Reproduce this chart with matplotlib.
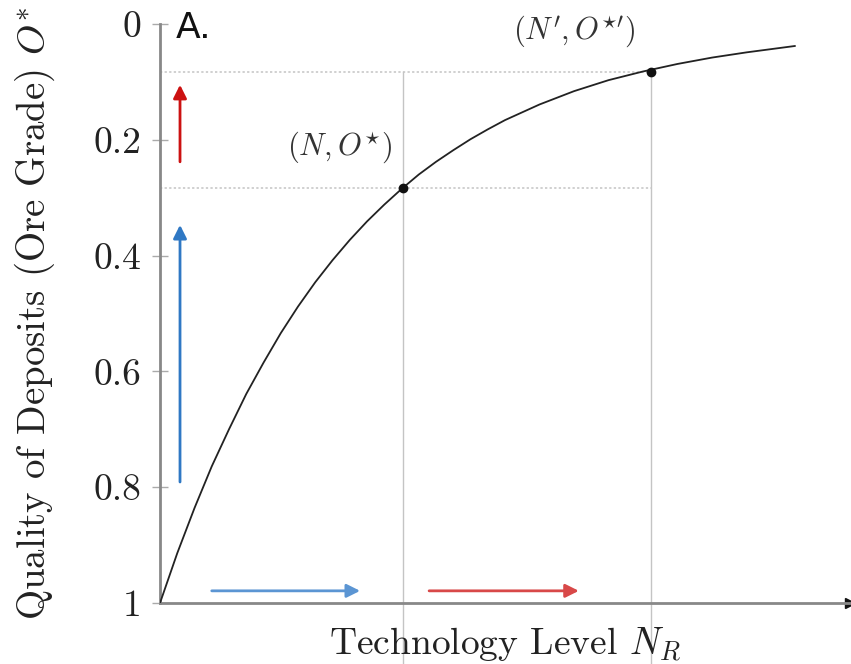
import matplotlib
matplotlib.use("Agg")
import matplotlib.pyplot as plt

plt.rcParams["font.family"] = ["cmr10", "DejaVu Serif"]
plt.rcParams["mathtext.fontset"] = "cm"
plt.rcParams["axes.formatter.use_mathtext"] = True

# curve: technology level (0..1) vs ore grade
tech_level = [0.0, 0.025, 0.05, 0.075, 0.10, 0.125, 0.15, 0.175, 0.20, 0.225,
              0.25, 0.275, 0.30, 0.325, 0.35, 0.375, 0.40, 0.425, 0.45, 0.475,
              0.50, 0.55, 0.60, 0.65, 0.70, 0.75, 0.80, 0.85, 0.92]
ore_grade = [1.0, 0.914, 0.836, 0.764, 0.700, 0.639, 0.585, 0.534, 0.488, 0.446,
             0.408, 0.373, 0.341, 0.312, 0.285, 0.260, 0.238, 0.218, 0.199, 0.182,
             0.166, 0.139, 0.116, 0.097, 0.082, 0.069, 0.058, 0.049, 0.038]

# the two highlighted points (N, O*) and (N', O*')
point_x = [0.352, 0.712]
point_y = [0.283, 0.083]
point_labels = [r"$(N, O^{\star})$", r"$(N', O^{\star\prime})$"]

y_ticks = [0, 0.2, 0.4, 0.6, 0.8, 1]
y_tick_labels = ["0", "0.2", "0.4", "0.6", "0.8", "1"]

# arrows: (x_start, y_start, x_end, y_end, colour)
arrows = [
    (0.029, 0.238, 0.029, 0.105, "#cc1111"),
    (0.029, 0.791, 0.029, 0.347, "#2f78c4"),
    (0.075, 0.979, 0.290, 0.979, "#5b95d3"),
    (0.390, 0.979, 0.607, 0.979, "#d84848"),
]

fig = plt.figure(figsize=(8.51, 6.64), dpi=100)
ax = fig.add_axes([160 / 851, 1 - 603 / 664, 690 / 851, 579 / 664])

ax.set_xlim(0, 1)
ax.set_ylim(1, 0)

# guide lines
grid_col = "#c4c4c4"
for px, py in zip(point_x, point_y):
    ax.plot([0, point_x[1]], [py, py], ls=(0, (1.5, 1.5)), color=grid_col, lw=1.1, zorder=1)
    ax.plot([px, px], [point_y[1], 1.105], color=grid_col, lw=1, clip_on=False, zorder=1)

ax.plot(tech_level, ore_grade, color="#222222", lw=1.3, solid_joinstyle="round", zorder=3)
ax.plot(point_x, point_y, "o", color="#111111", ms=6, zorder=4)

ax.text(0.26, 0.245, point_labels[0], fontsize=22, color="#333333", ha="center", va="bottom")
ax.text(0.60, 0.045, point_labels[1], fontsize=22, color="#333333", ha="center", va="bottom")

for x0, y0, x1, y1, col in arrows:
    ax.annotate("", xy=(x1, y1), xytext=(x0, y0),
                arrowprops=dict(arrowstyle="-|>", color=col, lw=2, mutation_scale=20,
                                shrinkA=0, shrinkB=0))

# axes styling
for side in ["top", "right"]:
    ax.spines[side].set_visible(False)
ax.spines["left"].set_color("#888888")
ax.spines["left"].set_linewidth(2)
ax.spines["bottom"].set_color("#888888")
ax.spines["bottom"].set_linewidth(2)
ax.plot(1, 0, marker=">", color="#111111", ms=7, transform=ax.transAxes, clip_on=False)

ax.set_xticks([])
ax.set_yticks(y_ticks)
ax.set_yticklabels(y_tick_labels, fontsize=27, color="#222222")
ax.tick_params(axis="y", direction="inout", length=11, width=1, color="#aaaaaa", pad=8)

ax.set_xlabel(r"Technology Level $N_R$", fontsize=27, labelpad=16, color="#222222")
ax.set_ylabel(r"Quality of Deposits (Ore Grade) $O^{*}$", fontsize=28, labelpad=26,
              color="#222222")

fig.text(176 / 851, 1 - 38 / 664, "A.", fontsize=26, family="DejaVu Sans",
         color="#111111", ha="left", va="baseline")

fig.savefig("out.png", dpi=100)
